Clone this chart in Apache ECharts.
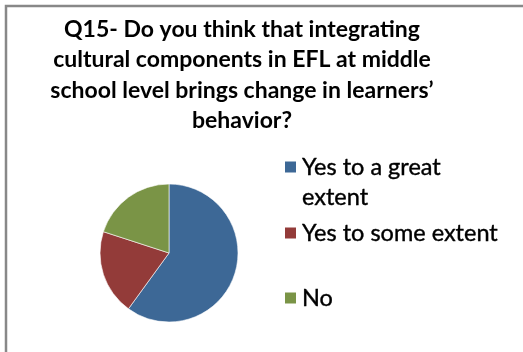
<!DOCTYPE html>
<html>
<head>
<meta charset="utf-8">
<script src="https://cdn.jsdelivr.net/npm/echarts@6/dist/echarts.min.js"></script>
<style>
  html, body { margin: 0; padding: 0; background: #ffffff; }
  #chart { width: 523px; height: 352px; }
</style>
</head>
<body>
<div id="chart"></div>
<script>
// Survey answers for question 15
const categories = ['Yes to a great extent', 'Yes to some extent', 'No'];
// a leading blank line keeps the marker level with the first line of a wrapped label
const legendLabels = ['\nYes to a great\nextent', 'Yes to some extent', 'No'];
const percentages = [60, 20, 20];
const sliceColors = ['#3d6896', '#933b39', '#7a9446'];
const titleText = 'Q15- Do you think that integrating\ncultural components in EFL at middle\nschool level brings change in learners\u2019\nbehavior?';

const FONT = 'Lato, "Open Sans", sans-serif';
const LEGEND_LINE = 30;
const markerCentres = [167, 233, 298];

const chart = echarts.init(document.getElementById('chart'), null, { renderer: 'canvas' });

const legends = categories.map((name, i) => {
  const lines = legendLabels[i].split('\n').length;
  return {
    orient: 'vertical',
    left: 283,
    top: markerCentres[i] - lines * LEGEND_LINE / 2,
    padding: 0,
    itemWidth: 13,
    itemHeight: 13,
    itemGap: 0,
    icon: 'rect',
    selectedMode: false,
    data: [name],
    formatter: () => legendLabels[i],
    textStyle: {
      fontFamily: FONT,
      fontSize: 23.5,
      lineHeight: LEGEND_LINE,
      color: '#000000',
      textBorderColor: '#000000',
      textBorderWidth: 0.4
    }
  };
});

chart.setOption({
  backgroundColor: '#ffffff',
  animation: false,
  title: {
    text: titleText,
    left: 237,
    top: 9,
    textAlign: 'center',
    textStyle: {
      fontFamily: FONT,
      fontWeight: 'bold',
      fontSize: 23,
      lineHeight: 30.5,
      color: '#000000'
    }
  },
  legend: legends,
  graphic: [{
    type: 'rect',
    shape: { x: 6, y: 6, width: 700, height: 500 },
    style: { fill: 'none', stroke: '#888888', lineWidth: 2.5 },
    silent: true,
    z: 100
  }],
  series: [{
    type: 'pie',
    center: [169, 253],
    radius: 69,
    startAngle: 90,
    clockwise: true,
    label: { show: false },
    labelLine: { show: false },
    itemStyle: { borderColor: '#ffffff', borderWidth: 0.6 },
    emphasis: { disabled: true },
    data: categories.map((name, i) => ({
      name: name,
      value: percentages[i],
      itemStyle: { color: sliceColors[i] }
    }))
  }]
});
</script>
</body>
</html>
